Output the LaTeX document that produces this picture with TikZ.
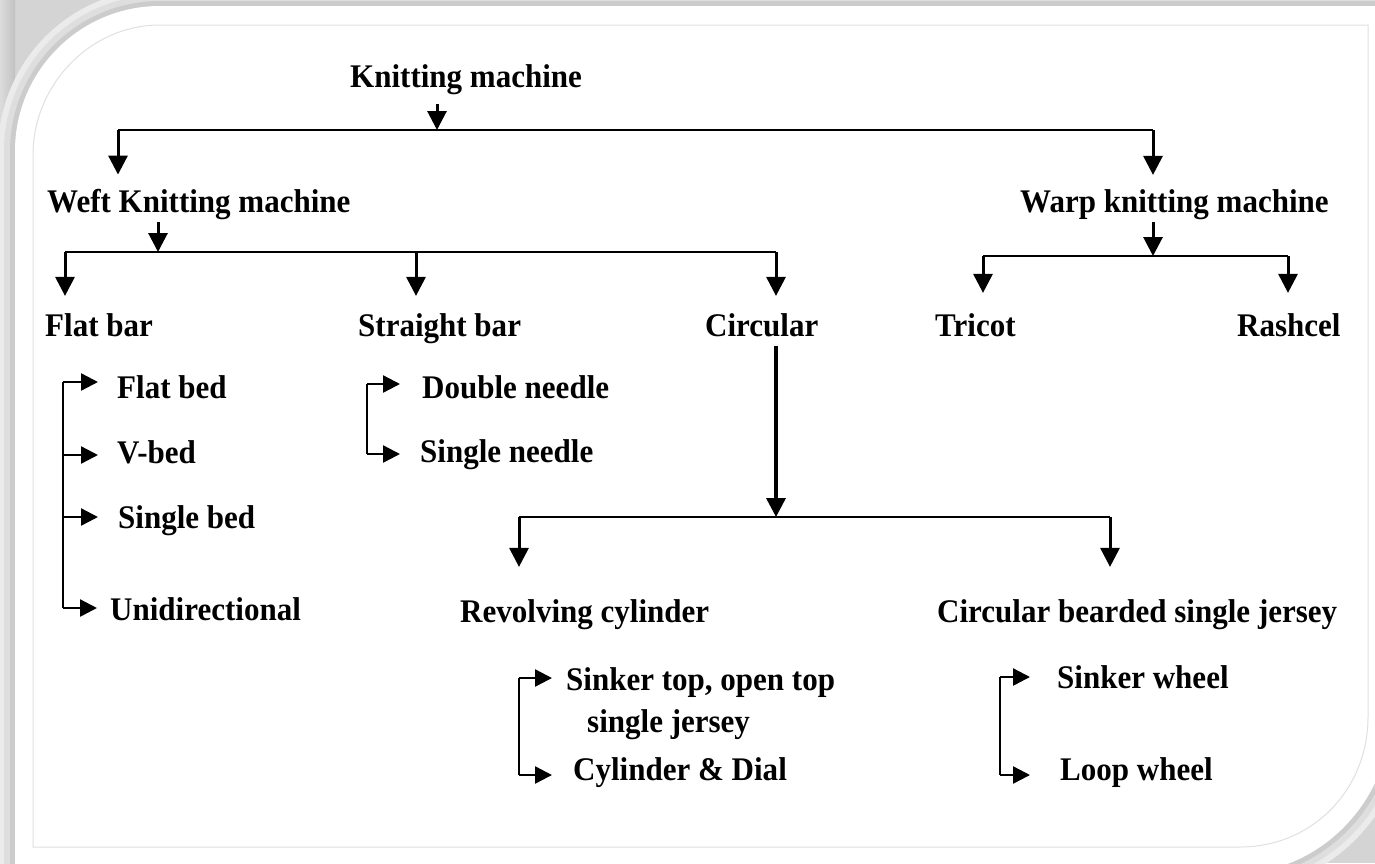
\documentclass[tikz,border=0pt]{standalone}
\usepackage{fontspec}
\setmainfont{Liberation Serif}
\newfontface\lblfont{Liberation Serif Bold}[FakeStretch=0.94]
\usetikzlibrary{arrows.meta}
\begin{document}
\begin{tikzpicture}[x=1pt,y=-1pt,
  lbl/.style={font=\lblfont\fontsize{33}{36}\selectfont, anchor=base west, inner sep=0pt},
  arr/.style={line width=3pt, -{Triangle[length=19pt,width=19pt]}},
  sarr/.style={line width=2.4pt, -{Triangle[length=17pt,width=17pt]}},
  bar/.style={line width=2.8pt},
  sbar/.style={line width=2.2pt}]
\useasboundingbox (0,0) rectangle (1375,863);
% background and card
\fill[black!17] (0,0) rectangle (1375,863);
\shade[left color=black!14, right color=black!24] (0,0) rectangle (15,863);
\def\cardpath{(15,880) -- (15,151) .. controls (15,71) and (80,6) .. (160,6) -- (1390,6) -- (1390,718) .. controls (1390,800) and (1320,873) .. (1238,873) -- cycle}
\draw[black!8, line width=34pt] \cardpath;
\draw[black!13, line width=22pt] \cardpath;
\draw[black!20, line width=10pt] \cardpath;
\fill[white] \cardpath;
\draw[black!12, line width=1pt] (33,847) -- (33,155) .. controls (33,85) and (90,25) .. (160,25) -- (1368,25) -- (1368,717) .. controls (1368,790) and (1312,847) .. (1240,847) -- cycle;

% nodes
\node[lbl] (km) at (350,87) {Knitting machine};
\node[lbl] (weft) at (47,212) {Weft Knitting machine};
\node[lbl] (warp) at (1020,212) {Warp knitting machine};
\node[lbl] (flat) at (45,336) {Flat bar};
\node[lbl] (straight) at (358,336) {Straight bar};
\node[lbl] (circ) at (705,336) {Circular};
\node[lbl] (tricot) at (935,336) {Tricot};
\node[lbl] (rashcel) at (1237,336) {Rashcel};
\node[lbl] (fbed) at (117,398) {Flat bed};
\node[lbl] (vbed) at (117,463) {V-bed};
\node[lbl] (sbed) at (118,528) {Single bed};
\node[lbl] (uni) at (110,620) {Unidirectional};
\node[lbl] (dn) at (422,398) {Double needle};
\node[lbl] (sn) at (420,462) {Single needle};
\node[lbl] (rev) at (460,622) {Revolving cylinder};
\node[lbl] (cbsj) at (937,622) {Circular bearded single jersey};
\node[lbl] (stot) at (566,690) {Sinker top, open top};
\node[lbl] (sj) at (587,732) {single jersey};
\node[lbl] (cd) at (573,780) {Cylinder \& Dial};
\node[lbl] (sw) at (1057,688) {Sinker wheel};
\node[lbl] (lw) at (1060,780) {Loop wheel};

% junction coordinates
\coordinate (b1m) at (437,130);
\coordinate (b1l) at (118,130);
\coordinate (b1r) at (1153,130);
\coordinate (b2m) at (158,252);
\coordinate (b2l) at (65,252);
\coordinate (b2c) at (416,252);
\coordinate (b2r) at (776,252);
\coordinate (b3m) at (1153,256);
\coordinate (b3l) at (983,256);
\coordinate (b3r) at (1288,256);
\coordinate (b4m) at (776,517);
\coordinate (b4l) at (519,517);
\coordinate (b4r) at (1110,517);
\coordinate (f1) at (63,382);
\coordinate (f2) at (63,455);
\coordinate (f3) at (63,517);
\coordinate (f4) at (63,608);
\coordinate (s1) at (367,384);
\coordinate (s2) at (367,454);
\coordinate (r1) at (519,678);
\coordinate (r2) at (519,775);
\coordinate (c1) at (1000,677);
\coordinate (c2) at (1000,775);

% level 1
\draw[arr, shorten <=10pt] (b1m |- km.south) -- (b1m);
\draw[bar] (b1l) -- (b1r);
\draw[arr, shorten >=14pt] (b1l) -- (b1l |- weft.north);
\draw[arr, shorten >=14pt] (b1r) -- (b1r |- warp.north);
% weft
\draw[arr, shorten <=3pt] (b2m |- weft.south) -- (b2m);
\draw[bar] (b2l) -- (b2r);
\draw[arr, shorten >=17pt] (b2l) -- (b2l |- flat.north);
\draw[arr, shorten >=17pt] (b2c) -- (b2c |- straight.north);
\draw[arr, shorten >=17pt] (b2r) -- (b2r |- circ.north);
% warp
\draw[arr, shorten <=3pt] (b3m |- warp.south) -- (b3m);
\draw[bar] (b3l) -- (b3r);
\draw[arr, shorten >=20pt] (b3l) -- (b3l |- tricot.north);
\draw[arr, shorten >=20pt] (b3r) -- (b3r |- rashcel.north);
% circular
\draw[line width=3.5pt, -{Triangle[length=19pt,width=19pt]}, shorten <=9pt] (b4m |- circ.south) -- (b4m);
\draw[bar] (b4l) -- (b4r);
\draw[arr, shorten >=32pt] (b4l) -- (b4l |- rev.north);
\draw[arr, shorten >=32pt] (b4r) -- (b4r |- cbsj.north);
% flat bar list
\draw[sbar] (f1) -- (f4);
\draw[sarr, shorten >=19pt] (f1) -- (f1 -| fbed.west);
\draw[sarr, shorten >=19pt] (f2) -- (f2 -| vbed.west);
\draw[sarr, shorten >=20pt] (f3) -- (f3 -| sbed.west);
\draw[sarr, shorten >=13pt] (f4) -- (f4 -| uni.west);
% straight bar list
\draw[sbar] (s1) -- (s2);
\draw[sarr, shorten >=22pt] (s1) -- (s1 -| dn.west);
\draw[sarr, shorten >=20pt] (s2) -- (s2 -| sn.west);
% revolving list
\draw[sbar] (r1) -- (r2);
\draw[sarr, shorten >=14pt] (r1) -- (r1 -| stot.west);
\draw[sarr, shorten >=21pt] (r2) -- (r2 -| cd.west);
% bearded list
\draw[sbar] (c1) -- (c2);
\draw[sarr, shorten >=27pt] (c1) -- (c1 -| sw.west);
\draw[sarr, shorten >=30pt] (c2) -- (c2 -| lw.west);
\end{tikzpicture}
\end{document}
